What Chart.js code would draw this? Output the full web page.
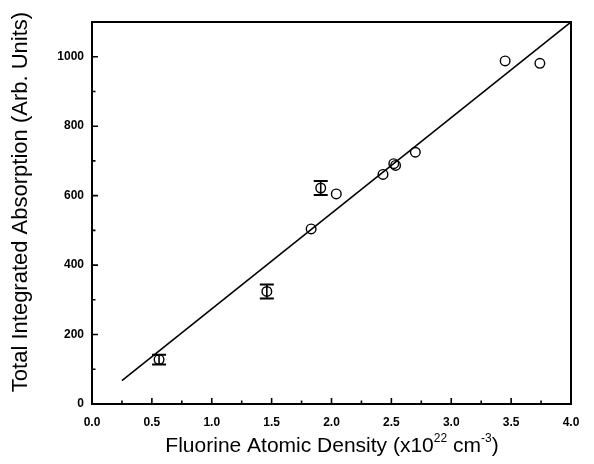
<!DOCTYPE html>
<html>
<head>
<meta charset="utf-8">
<script src="https://cdn.jsdelivr.net/npm/chart.js@4.4.1/dist/chart.umd.min.js"></script>
<style>
  html, body { margin: 0; padding: 0; background: #fff; }
  #wrap { width: 594px; height: 464px; position: relative; }
</style>
</head>
<body>
<div id="wrap"><canvas id="absChart"></canvas></div>
<script>
'use strict';

// ── Data ──────────────────────────────────────────────────────
const densityX   = [0.56, 1.46, 1.83, 1.91, 2.04, 2.43, 2.52, 2.535, 2.70, 3.45, 3.74];
const absorbY    = [128,  324,  504,  622,  605,  661,  692,  687,   725,  988,  981];
const absorbErr  = [14,   20,   0,    20,   0,    0,    0,    0,     0,    0,    0];

const fitX = [0.25, 4.0];
const fitY = [67, 1100];

const xTicks      = [0, 0.5, 1.0, 1.5, 2.0, 2.5, 3.0, 3.5, 4.0];
const xMinorTicks = [0.25, 0.75, 1.25, 1.75, 2.25, 2.75, 3.25, 3.75];
const yTicks      = [0, 200, 400, 600, 800, 1000];
const yMinorTicks = [100, 300, 500, 700, 900];

const FONT = "'Liberation Sans', Arial, Helvetica, sans-serif";

// ── Frame, inward ticks, error bars, titles ───────────────────
const decorPlugin = {
  id: 'decor',
  afterDatasetsDraw(chart) {
    const { ctx, chartArea: a, scales: { x, y } } = chart;
    ctx.save();
    ctx.strokeStyle = '#000';

    // error bars
    densityX.forEach((xv, i) => {
      const e = absorbErr[i];
      if (!e) return;
      const px = x.getPixelForValue(xv);
      const top = y.getPixelForValue(absorbY[i] + e);
      const bot = y.getPixelForValue(absorbY[i] - e);
      ctx.lineWidth = 1.6;
      ctx.beginPath();
      ctx.moveTo(px, top); ctx.lineTo(px, bot);
      ctx.stroke();
      ctx.lineWidth = 2;
      ctx.beginPath();
      ctx.moveTo(px - 7, top); ctx.lineTo(px + 7, top);
      ctx.moveTo(px - 7, bot); ctx.lineTo(px + 7, bot);
      ctx.stroke();
    });

    // frame
    ctx.lineWidth = 2;
    ctx.strokeRect(a.left, a.top, a.right - a.left, a.bottom - a.top);

    // inward ticks on bottom and left
    ctx.lineWidth = 1.6;
    ctx.beginPath();
    xTicks.forEach(v => {
      const px = x.getPixelForValue(v);
      ctx.moveTo(px, a.bottom); ctx.lineTo(px, a.bottom - 6);
    });
    xMinorTicks.forEach(v => {
      const px = x.getPixelForValue(v);
      ctx.moveTo(px, a.bottom); ctx.lineTo(px, a.bottom - 3.5);
    });
    yTicks.forEach(v => {
      const py = y.getPixelForValue(v);
      ctx.moveTo(a.left, py); ctx.lineTo(a.left + 6, py);
    });
    yMinorTicks.forEach(v => {
      const py = y.getPixelForValue(v);
      ctx.moveTo(a.left, py); ctx.lineTo(a.left + 3.5, py);
    });
    ctx.stroke();
    ctx.restore();
  },
  afterDraw(chart) {
    const { ctx } = chart;
    ctx.save();
    ctx.fillStyle = '#000';

    // y title (rotated)
    ctx.font = `22px ${FONT}`;
    ctx.textAlign = 'center';
    ctx.textBaseline = 'middle';
    ctx.translate(21, 202);
    ctx.rotate(-Math.PI / 2);
    ctx.fillText('Total Integrated Absorption (Arb. Units)', 0, 0);
    ctx.setTransform(1, 0, 0, 1, 0, 0);

    // x title with superscripts
    const parts = [
      ['Fluorine Atomic Density (x10', false],
      ['22', true],
      [' cm', false],
      ['-3', true],
      [')', false],
    ];
    const big = `21px ${FONT}`, small = `12px ${FONT}`;
    let total = 0;
    parts.forEach(([t, sup]) => { ctx.font = sup ? small : big; total += ctx.measureText(t).width; });
    let cx = 332 - total / 2;
    const base = 452;
    ctx.textAlign = 'left';
    ctx.textBaseline = 'alphabetic';
    parts.forEach(([t, sup]) => {
      ctx.font = sup ? small : big;
      ctx.fillText(t, cx, sup ? base - 10 : base);
      cx += ctx.measureText(t).width;
    });
    ctx.restore();
  },
};

// ── Chart ─────────────────────────────────────────────────────
const ctx = document.getElementById('absChart').getContext('2d');

new Chart(ctx, {
  type: 'scatter',
  data: {
    datasets: [
      {
        label: 'data',
        data: densityX.map((v, i) => ({ x: v, y: absorbY[i] })),
        pointStyle: 'circle',
        pointRadius: 4.8,
        pointBorderWidth: 1.4,
        borderColor: '#000',
        backgroundColor: 'rgba(0,0,0,0)',
        showLine: false,
      },
      {
        label: 'fit',
        data: fitX.map((v, i) => ({ x: v, y: fitY[i] })),
        showLine: true,
        pointRadius: 0,
        borderColor: '#000',
        borderWidth: 1.6,
        fill: false,
      },
    ],
  },
  options: {
    responsive: true,
    maintainAspectRatio: false,
    animation: false,
    events: [],
    layout: { padding: { top: 22, right: 23, left: 0, bottom: 0 } },
    plugins: { legend: { display: false }, tooltip: { enabled: false } },
    scales: {
      x: {
        type: 'linear',
        min: 0, max: 4,
        afterBuildTicks: s => { s.ticks = xTicks.map(v => ({ value: v })); },
        afterFit: s => { s.height = 60; },
        grid: { display: false, drawTicks: false },
        border: { display: false },
        ticks: {
          color: '#000',
          padding: 11,
          maxRotation: 0,
          font: { family: FONT, size: 12, weight: 'bold' },
          callback: v => v.toFixed(1),
        },
      },
      y: {
        type: 'linear',
        min: 0, max: 1100,
        afterBuildTicks: s => { s.ticks = yTicks.map(v => ({ value: v })); },
        afterFit: s => { s.width = 92; },
        grid: { display: false, drawTicks: false },
        border: { display: false },
        ticks: {
          color: '#000',
          padding: 8,
          font: { family: FONT, size: 12, weight: 'bold' },
          callback: v => String(v),
        },
      },
    },
  },
  plugins: [decorPlugin],
});
</script>
</body>
</html>
